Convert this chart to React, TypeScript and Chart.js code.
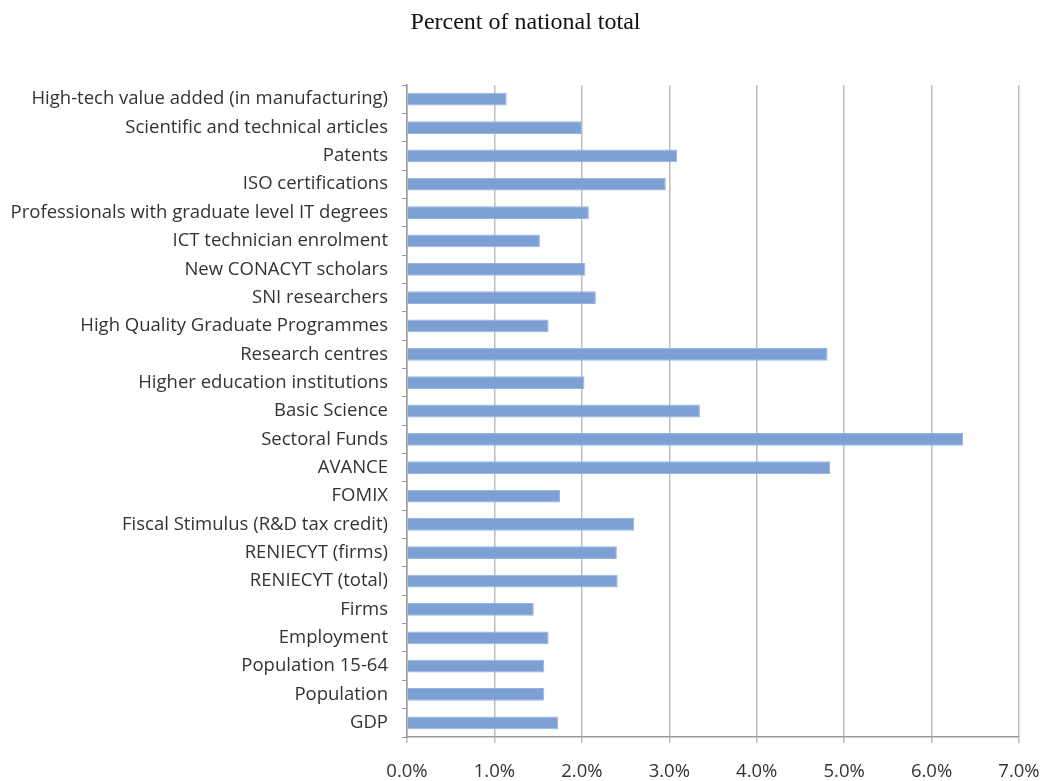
import React, { useEffect, useRef } from "react";
import { Chart, registerables } from "chart.js";

Chart.register(...registerables);

const categories = [
  "High-tech value added (in manufacturing)",
  "Scientific and technical articles",
  "Patents",
  "ISO certifications",
  "Professionals with graduate level IT degrees",
  "ICT technician enrolment",
  "New CONACYT scholars",
  "SNI researchers",
  "High Quality Graduate Programmes",
  "Research centres",
  "Higher education institutions",
  "Basic Science",
  "Sectoral Funds",
  "AVANCE",
  "FOMIX",
  "Fiscal Stimulus (R&D tax credit)",
  "RENIECYT (firms)",
  "RENIECYT (total)",
  "Firms",
  "Employment",
  "Population 15-64",
  "Population",
  "GDP",
];

const values = [
  1.14, 2.0, 3.09, 2.96, 2.08, 1.52, 2.04, 2.16, 1.62, 4.81, 2.03, 3.35, 6.36,
  4.84, 1.75, 2.6, 2.4, 2.41, 1.45, 1.62, 1.57, 1.57, 1.73,
];

const xTicks = [0, 1, 2, 3, 4, 5, 6, 7];
const titleText = "Percent of national total";

const titlePlugin = {
  id: "centeredTitle",
  afterDraw(chart: any) {
    const c = chart.ctx;
    c.save();
    c.font = "24px 'Liberation Serif', 'Times New Roman', serif";
    c.fillStyle = "#111";
    c.textAlign = "center";
    c.textBaseline = "middle";
    c.fillText(titleText, 525.5, 23);
    c.restore();
  },
};

export default function App() {
  const ref = useRef<HTMLCanvasElement | null>(null);
  useEffect(() => {
    document.body.style.margin = "0";
    const ctx = ref.current!;
    const chart = new Chart(ctx, {
      type: "bar",
      data: {
        labels: categories,
        datasets: [
          {
            data: values,
            backgroundColor: "rgb(125,160,212)",
            borderColor: "rgb(150,180,225)",
            borderWidth: 1,
            categoryPercentage: 1,
            barPercentage: 0.45,
          },
        ],
      },
      plugins: [titlePlugin],
      options: {
        indexAxis: "y",
        animation: false,
        responsive: false,
        maintainAspectRatio: false,
        layout: { padding: { left: 0, right: 24, top: 85, bottom: 0 } },
        plugins: {
          legend: { display: false },
          tooltip: { enabled: false },
          title: { display: false },
        },
        scales: {
          x: {
            min: 0,
            max: 7,
            afterBuildTicks: (scale: any) => {
              scale.ticks = xTicks.map((v) => ({ value: v }));
            },
            afterFit: (scale: any) => {
              scale.height = 44;
              scale.paddingRight = 0;
              scale.paddingLeft = 0;
            },
            ticks: {
              color: "#333",
              font: { family: "'Open Sans', sans-serif", size: 18.5 },
              padding: 18,
              maxRotation: 0,
              callback: (v: any) => Number(v).toFixed(1) + "%",
            },
            grid: {
              color: "#bdbdbd",
              lineWidth: 1.5,
              tickLength: 6,
              drawTicks: true,
            },
            border: { color: "#9a9a9a", width: 1.5 },
          },
          y: {
            afterFit: (scale: any) => {
              scale.width = 407;
              scale.paddingTop = 0;
              scale.paddingBottom = 0;
            },
            ticks: {
              color: "#333",
              font: { family: "'Open Sans', sans-serif", size: 18.5 },
              padding: 14,
              autoSkip: false,
            },
            grid: {
              drawOnChartArea: false,
              drawTicks: true,
              tickLength: 5,
              color: "#9a9a9a",
              offset: true,
            },
            border: { color: "#9a9a9a", width: 1.5 },
          },
        },
      },
    });
    return () => chart.destroy();
  }, []);
  return (
    <div style={{ position: "fixed", left: 0, top: 0, width: 1043, height: 781 }}>
      <canvas ref={ref} width={1043} height={781} style={{ width: 1043, height: 781 }} />
    </div>
  );
}
